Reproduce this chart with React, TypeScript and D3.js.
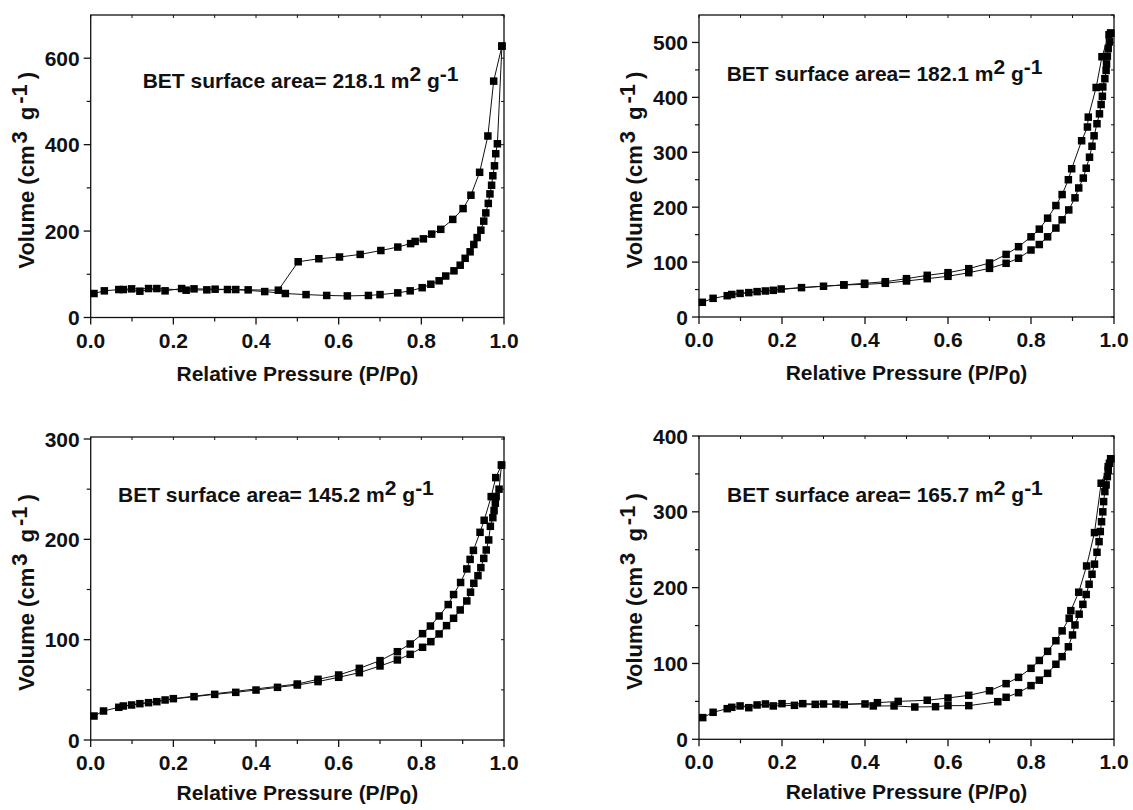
import React from "react";
import * as d3 from "d3";

type Pt = [number, number];

// ---------- data (relative pressure P/P0, volume cm3/g) ----------
const bet1Label = "218.1";
const bet2Label = "182.1";
const bet3Label = "145.2";
const bet4Label = "165.7";

const p1Adsorption: Pt[] = [
  [0.008, 55.5], [0.033, 61.7], [0.068, 64.7], [0.099, 66.3], [0.14, 67], [0.18, 61.7],
  [0.22, 67], [0.25, 66.3], [0.301, 65.5], [0.351, 64.7], [0.421, 60], [0.471, 55.5],
  [0.521, 53], [0.571, 51], [0.621, 50], [0.672, 51], [0.70, 53], [0.743, 57], [0.773, 61.7],
  [0.802, 69], [0.823, 77], [0.843, 85], [0.859, 96], [0.879, 108], [0.894, 121], [0.906, 137],
  [0.918, 152], [0.927, 169], [0.935, 185], [0.944, 202], [0.951, 223], [0.956, 242],
  [0.962, 264], [0.966, 286], [0.970, 306], [0.973, 328], [0.977, 351], [0.980, 379],
  [0.984, 402], [0.995, 628],
];
const p1Desorption: Pt[] = [
  [0.995, 628], [0.975, 547], [0.961, 420], [0.941, 336], [0.920, 283], [0.901, 252],
  [0.876, 227], [0.847, 204], [0.825, 193], [0.805, 182], [0.785, 176], [0.774, 171],
  [0.743, 163], [0.702, 155], [0.652, 146], [0.602, 140], [0.552, 136], [0.502, 129],
  [0.454, 63.2], [0.381, 64], [0.331, 64.7], [0.281, 64], [0.231, 63.2], [0.16, 67],
  [0.119, 60.9], [0.079, 64.7],
];

const p2Adsorption: Pt[] = [
  [0.008, 26.8], [0.034, 34], [0.068, 38.8], [0.099, 43], [0.14, 46.2], [0.179, 48.6],
  [0.247, 53.5], [0.30, 56], [0.349, 58.3], [0.399, 59.5], [0.449, 61.4], [0.50, 65.6],
  [0.55, 69.8], [0.60, 74.1], [0.65, 80.7], [0.70, 88.6], [0.74, 97.8], [0.77, 107],
  [0.80, 122], [0.82, 132], [0.84, 146], [0.86, 162], [0.875, 177], [0.891, 195],
  [0.906, 217], [0.915, 235], [0.926, 253], [0.933, 271], [0.941, 291], [0.947, 311],
  [0.952, 330], [0.959, 352], [0.965, 370], [0.969, 387], [0.972, 402], [0.973, 419],
  [0.978, 434], [0.981, 449], [0.982, 461], [0.984, 475], [0.986, 489], [0.989, 501],
  [0.992, 517],
];
const p2Desorption: Pt[] = [
  [0.992, 517], [0.988, 514], [0.971, 474], [0.957, 418], [0.938, 364], [0.936, 346],
  [0.922, 321], [0.898, 270], [0.89, 250], [0.875, 223], [0.86, 203], [0.84, 180],
  [0.82, 160], [0.80, 146], [0.77, 128], [0.74, 114], [0.70, 98.4], [0.65, 88],
  [0.60, 80.7], [0.55, 75.9], [0.50, 69.8], [0.449, 64.3], [0.399, 61.4], [0.349, 58.5],
  [0.198, 51], [0.16, 47.4], [0.12, 44.4], [0.079, 41],
];

const p3Adsorption: Pt[] = [
  [0.008, 23.9], [0.031, 28.9], [0.068, 32.6], [0.099, 34.9], [0.14, 37.2], [0.18, 39.9],
  [0.25, 43.2], [0.30, 45.5], [0.351, 47.5], [0.40, 49.8], [0.452, 52.5], [0.50, 54.8],
  [0.55, 58.2], [0.60, 62.5], [0.65, 67.1], [0.70, 73.8], [0.742, 79.8], [0.773, 85.4],
  [0.803, 92.4], [0.823, 98], [0.843, 105.7], [0.861, 114], [0.878, 121.3], [0.894, 129.6],
  [0.910, 138.6], [0.919, 147.3], [0.927, 156.2], [0.937, 163.8], [0.944, 171.8],
  [0.951, 181], [0.957, 189.4], [0.963, 199.4], [0.967, 213], [0.973, 221.6],
  [0.976, 228.6], [0.979, 236], [0.981, 242.6], [0.988, 250], [0.994, 274],
];
const p3Desorption: Pt[] = [
  [0.994, 274], [0.98, 261.5], [0.969, 242.6], [0.952, 219], [0.942, 207], [0.926, 189],
  [0.918, 180], [0.91, 170.5], [0.895, 157], [0.878, 145], [0.865, 135], [0.843, 123.6],
  [0.822, 113.6], [0.803, 106], [0.773, 95.7], [0.742, 88], [0.70, 79.1], [0.65, 71.4],
  [0.60, 64.8], [0.55, 60.5], [0.50, 55.8], [0.2, 41.2], [0.16, 38.2], [0.119, 36.2],
  [0.079, 33.9],
];

const p4Adsorption: Pt[] = [
  [0.009, 28.6], [0.034, 35.6], [0.068, 40.4], [0.099, 44], [0.12, 41.7], [0.16, 46.6],
  [0.179, 44], [0.23, 44.8], [0.28, 46.1], [0.33, 46.6], [0.40, 46.6], [0.42, 44],
  [0.47, 44], [0.52, 42.6], [0.57, 43], [0.60, 44.4], [0.65, 44.4], [0.72, 49.6],
  [0.74, 55.4], [0.77, 61.5], [0.80, 70.8], [0.82, 78], [0.84, 87], [0.86, 99],
  [0.875, 109], [0.89, 122], [0.900, 137.6], [0.906, 150.8], [0.916, 165], [0.925, 178],
  [0.933, 191], [0.94, 204.5], [0.947, 217.7], [0.953, 231], [0.959, 246.7], [0.964, 260.7],
  [0.967, 274], [0.97, 287], [0.973, 300], [0.975, 313.5], [0.978, 326.7], [0.981, 335.5],
  [0.984, 346.4], [0.986, 355], [0.989, 364], [0.992, 370],
];
const p4Desorption: Pt[] = [
  [0.992, 370], [0.986, 359.6], [0.969, 337.7], [0.953, 272.6], [0.934, 228.6],
  [0.915, 194], [0.896, 169.7], [0.892, 159.6], [0.875, 143], [0.86, 130], [0.84, 116],
  [0.82, 104], [0.80, 93.6], [0.77, 81.7], [0.74, 73.4], [0.70, 64], [0.65, 58],
  [0.60, 54.5], [0.55, 51.5], [0.48, 50], [0.43, 48.3], [0.35, 45.7], [0.30, 46.6],
  [0.25, 47], [0.2, 47], [0.14, 45.3], [0.079, 42.2],
];

const xMajorTicks = [0, 0.2, 0.4, 0.6, 0.8, 1.0];
const xMinorTicks = [0.1, 0.3, 0.5, 0.7, 0.9];
const p1YTicks = [0, 200, 400, 600];
const p2YTicks = [0, 100, 200, 300, 400, 500];
const p3YTicks = [0, 100, 200, 300];
const p4YTicks = [0, 100, 200, 300, 400];

// ---------- layout ----------
const FONT = "'Liberation Sans', Arial, Helvetica, sans-serif";
const FS = 21;

type PanelCfg = {
  left: number; right: number; top: number; bottom: number;
  yMax: number; yTicks: number[]; yMinorStep: number;
  ads: Pt[]; des: Pt[]; bet: string; labelDx: number; labelDy: number; titleDy: number;
};

const panels: PanelCfg[] = [
  { left: 90.7, right: 504, top: 15, bottom: 317.5, yMax: 700, yTicks: p1YTicks, yMinorStep: 100,
    ads: p1Adsorption, des: p1Desorption, bet: bet1Label, labelDx: 52, labelDy: 73.3, titleDy: 63 },
  { left: 699, right: 1114, top: 15, bottom: 317, yMax: 550, yTicks: p2YTicks, yMinorStep: 50,
    ads: p2Adsorption, des: p2Desorption, bet: bet2Label, labelDx: 27.7, labelDy: 66, titleDy: 63 },
  { left: 90.7, right: 504, top: 437, bottom: 740, yMax: 302, yTicks: p3YTicks, yMinorStep: 50,
    ads: p3Adsorption, des: p3Desorption, bet: bet3Label, labelDx: 27.3, labelDy: 64.7, titleDy: 60 },
  { left: 699, right: 1114, top: 436, bottom: 739.3, yMax: 400, yTicks: p4YTicks, yMinorStep: 50,
    ads: p4Adsorption, des: p4Desorption, bet: bet4Label, labelDx: 28, labelDy: 65.7, titleDy: 60 },
];

const MS = 7.5;

function Panel({ cfg }: { cfg: PanelCfg }) {
  const x = d3.scaleLinear().domain([0, 1]).range([cfg.left, cfg.right]);
  const y = d3.scaleLinear().domain([0, cfg.yMax]).range([cfg.bottom, cfg.top]);
  const line = d3.line<Pt>().x((d) => x(d[0])).y((d) => y(d[1]));
  const yMinor = d3.range(cfg.yMinorStep, cfg.yMax, cfg.yMinorStep).filter(
    (v) => !cfg.yTicks.includes(v)
  );
  const allYTicks = d3.range(0, cfg.yMax + 0.001, cfg.yMinorStep);
  const allXTicks = [...xMajorTicks, ...xMinorTicks];
  const fmtX = d3.format(".1f");
  const cx = (cfg.left + cfg.right) / 2;
  const cy = (cfg.top + cfg.bottom) / 2 + 4;
  const sup = 7;
  return (
    <g>
      <rect x={cfg.left} y={cfg.top} width={cfg.right - cfg.left} height={cfg.bottom - cfg.top}
        fill="none" stroke="#111" strokeWidth={1.3} />
      {xMajorTicks.map((t) => (
        <line key={"xb" + t} x1={x(t)} x2={x(t)} y1={cfg.bottom} y2={cfg.bottom + 7} stroke="#111" strokeWidth={1.3} />
      ))}
      {xMinorTicks.map((t) => (
        <line key={"xm" + t} x1={x(t)} x2={x(t)} y1={cfg.bottom} y2={cfg.bottom + 4} stroke="#111" strokeWidth={1.2} />
      ))}
      {allXTicks.map((t) => (
        <line key={"xt" + t} x1={x(t)} x2={x(t)} y1={cfg.top} y2={cfg.top + 3} stroke="#111" strokeWidth={1} />
      ))}
      {cfg.yTicks.map((t) => (
        <line key={"yl" + t} x1={cfg.left - 7} x2={cfg.left} y1={y(t)} y2={y(t)} stroke="#111" strokeWidth={1.3} />
      ))}
      {yMinor.map((t) => (
        <line key={"ym" + t} x1={cfg.left - 4} x2={cfg.left} y1={y(t)} y2={y(t)} stroke="#111" strokeWidth={1.2} />
      ))}
      {allYTicks.map((t) => (
        <line key={"yr" + t} x1={cfg.right - 3} x2={cfg.right} y1={y(t)} y2={y(t)} stroke="#111" strokeWidth={1} />
      ))}
      {xMajorTicks.map((t) => (
        <text key={"xl" + t} x={x(t)} y={cfg.bottom + 30} textAnchor="middle"
          fontFamily={FONT} fontWeight="bold" fontSize={FS} fill="#111">{fmtX(t)}</text>
      ))}
      {cfg.yTicks.map((t) => (
        <text key={"ylb" + t} x={cfg.left - 11} y={y(t) + 7.5} textAnchor="end"
          fontFamily={FONT} fontWeight="bold" fontSize={FS} fill="#111">{t}</text>
      ))}
      <text x={cx} y={cfg.bottom + cfg.titleDy} textAnchor="middle" fontFamily={FONT} fontWeight="bold" fontSize={FS} fill="#111">
        Relative Pressure (P/P<tspan dy={4}>0</tspan><tspan dy={-4}>)</tspan>
      </text>
      <text transform={`translate(${cfg.left - 57},${cy}) rotate(-90)`} textAnchor="middle"
        fontFamily={FONT} fontWeight="bold" fontSize={22} fill="#111">
        Volume (cm<tspan dx={2} dy={-sup}>3</tspan><tspan dx={5} dy={sup}> g</tspan><tspan dx={3} dy={-sup}>-1</tspan><tspan dx={5} dy={sup}>)</tspan>
      </text>
      <text x={cfg.left + cfg.labelDx} y={cfg.top + cfg.labelDy} fontFamily={FONT} fontWeight="bold" fontSize={FS} fill="#111">
        BET surface area= {cfg.bet} m<tspan dy={-sup}>2</tspan><tspan dy={sup}> g</tspan><tspan dy={-sup}>-1</tspan>
      </text>
      {[cfg.ads, cfg.des].map((s, i) => (
        <g key={"s" + i}>
          <path d={line(s) || ""} fill="none" stroke="#111" strokeWidth={1} />
          {s.map((d, j) => (
            <rect key={j} x={x(d[0]) - MS / 2} y={y(d[1]) - MS / 2} width={MS} height={MS} fill="#000" />
          ))}
        </g>
      ))}
    </g>
  );
}

export default function App() {
  return (
    <svg width={1133} height={810} style={{ position: "absolute", left: 0, top: 0, background: "#fff" }}>
      <rect width={1133} height={810} fill="#fff" />
      {panels.map((p, i) => (
        <Panel key={i} cfg={p} />
      ))}
    </svg>
  );
}
